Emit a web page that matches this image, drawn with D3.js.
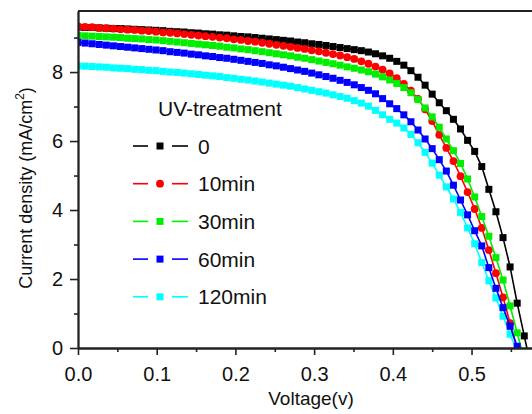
<!DOCTYPE html>
<html>
<head>
<meta charset="utf-8">
<script src="https://cdn.jsdelivr.net/npm/d3@7"></script>
<style>
  body { margin: 0; background: #fff; }
  text { font-family: "Liberation Sans", Arial, sans-serif; fill: #111; }
</style>
</head>
<body>
<svg id="chart" width="532" height="414"></svg>
<script>
/* ── J-V curves, current density (mA/cm²) vs voltage (V) ── */
const voltage = [0.000, 0.009, 0.018, 0.027, 0.036, 0.045, 0.054, 0.063, 0.072, 0.081,
  0.090, 0.099, 0.108, 0.117, 0.126, 0.135, 0.144, 0.153, 0.162, 0.171,
  0.180, 0.189, 0.198, 0.207, 0.216, 0.225, 0.234, 0.243, 0.252, 0.261,
  0.270, 0.279, 0.288, 0.297, 0.306, 0.315, 0.324, 0.333, 0.342, 0.351,
  0.360, 0.369, 0.378, 0.387, 0.396, 0.405, 0.414, 0.423, 0.432, 0.441,
  0.450, 0.459, 0.468, 0.477, 0.486, 0.495, 0.504, 0.513, 0.522, 0.531,
  0.540, 0.549, 0.558, 0.567, 0.576];

const j0 = [9.30, 9.29, 9.29, 9.28, 9.27, 9.26, 9.26, 9.25, 9.24, 9.23,
  9.22, 9.21, 9.20, 9.18, 9.17, 9.16, 9.14, 9.13, 9.11, 9.10,
  9.08, 9.07, 9.05, 9.03, 9.02, 9.00, 8.98, 8.96, 8.94, 8.92,
  8.90, 8.87, 8.85, 8.82, 8.80, 8.77, 8.74, 8.71, 8.68, 8.65,
  8.62, 8.58, 8.53, 8.47, 8.40, 8.31, 8.20, 8.04, 7.85, 7.62,
  7.36, 7.11, 6.88, 6.63, 6.35, 6.02, 5.70, 5.26, 4.60, 3.95,
  3.20, 2.35, 1.30, 0.35, -0.60];

const j10 = [9.32, 9.31, 9.30, 9.28, 9.27, 9.26, 9.24, 9.23, 9.22, 9.20,
  9.19, 9.17, 9.15, 9.14, 9.12, 9.10, 9.08, 9.06, 9.04, 9.02,
  9.00, 8.98, 8.95, 8.93, 8.90, 8.88, 8.85, 8.82, 8.79, 8.76,
  8.73, 8.70, 8.67, 8.63, 8.60, 8.56, 8.52, 8.48, 8.43, 8.38,
  8.31, 8.24, 8.16, 8.07, 7.96, 7.82, 7.66, 7.46, 7.22, 6.92,
  6.58, 6.18, 5.80, 5.42, 4.98, 4.52, 4.03, 3.48, 2.84, 2.17,
  1.47, 0.72, -0.05];

const j30 = [9.06, 9.05, 9.04, 9.03, 9.02, 9.01, 9.00, 8.98, 8.97, 8.96,
  8.94, 8.93, 8.91, 8.89, 8.87, 8.85, 8.83, 8.81, 8.79, 8.77,
  8.75, 8.72, 8.70, 8.67, 8.65, 8.62, 8.59, 8.56, 8.53, 8.50,
  8.47, 8.43, 8.40, 8.36, 8.32, 8.28, 8.24, 8.20, 8.15, 8.11,
  8.06, 8.01, 7.94, 7.86, 7.77, 7.67, 7.55, 7.40, 7.20, 6.96,
  6.70, 6.40, 6.06, 5.72, 5.35, 4.90, 4.38, 3.81, 3.24, 2.62,
  1.97, 1.22, 0.44, -0.35];

const j60 = [8.86, 8.84, 8.82, 8.80, 8.78, 8.76, 8.74, 8.72, 8.70, 8.68,
  8.66, 8.64, 8.62, 8.59, 8.57, 8.55, 8.52, 8.50, 8.47, 8.45,
  8.42, 8.40, 8.37, 8.34, 8.31, 8.28, 8.25, 8.21, 8.18, 8.14,
  8.10, 8.06, 8.02, 7.97, 7.92, 7.87, 7.82, 7.76, 7.70, 7.63,
  7.55, 7.47, 7.37, 7.23, 7.08, 6.94, 6.76, 6.56, 6.32, 6.06,
  5.78, 5.46, 5.13, 4.72, 4.29, 3.86, 3.40, 2.96, 2.33, 1.73,
  1.17, 0.63, 0.05, -0.50];

const j120 = [8.18, 8.17, 8.16, 8.15, 8.14, 8.12, 8.11, 8.10, 8.08, 8.07,
  8.05, 8.04, 8.02, 8.00, 7.99, 7.97, 7.95, 7.93, 7.91, 7.89,
  7.87, 7.84, 7.82, 7.79, 7.77, 7.74, 7.71, 7.68, 7.65, 7.62,
  7.59, 7.55, 7.51, 7.47, 7.43, 7.39, 7.34, 7.29, 7.24, 7.17,
  7.10, 7.01, 6.89, 6.76, 6.63, 6.52, 6.38, 6.19, 5.95, 5.67,
  5.36, 5.01, 4.67, 4.32, 3.93, 3.48, 3.02, 2.48, 1.95, 1.45,
  0.92, 0.40, -0.12];

const seriesLabels = ['0', '10min', '30min', '60min', '120min'];
const xTicks      = [0.0, 0.1, 0.2, 0.3, 0.4, 0.5];
const xMinorTicks = [0.05, 0.15, 0.25, 0.35, 0.45, 0.55];
const yTicks      = [0, 2, 4, 6, 8];
const yMinorTicks = [1, 3, 5, 7, 9];

/* styles per series, same order as labels */
const SERIES = [
  { label: seriesLabels[0], values: j0,   color: '#000000', symbol: 'square' },
  { label: seriesLabels[1], values: j10,  color: '#ff0000', symbol: 'circle' },
  { label: seriesLabels[2], values: j30,  color: '#00ee00', symbol: 'square' },
  { label: seriesLabels[3], values: j60,  color: '#0000ff', symbol: 'square' },
  { label: seriesLabels[4], values: j120, color: '#00ffff', symbol: 'square' },
];
const DRAW_ORDER = [0, 4, 1, 2, 3];   // black underneath, blue on top

const AXIS_COLOR = '#222';
const svg = d3.select('#chart');

const x = d3.scaleLinear().domain([0, 0.58]).range([78, 534.5]);
const y = d3.scaleLinear().domain([0, 9.77]).range([348, 11]);

/* ── clip to plot area ── */
svg.append('defs').append('clipPath').attr('id', 'plot-clip')
  .append('rect')
  .attr('x', x(0)).attr('y', y(9.77))
  .attr('width', x(0.58) - x(0)).attr('height', y(0) - y(9.77));

/* ── curves ── */
const plot = svg.append('g').attr('clip-path', 'url(#plot-clip)');
const line = d3.line().x(d => x(d[0])).y(d => y(d[1]));
const SQ = 7, R = 3.9;

function drawSymbol(sel, s, cx, cy) {
  if (s.symbol === 'circle') {
    sel.append('circle').attr('cx', cx).attr('cy', cy).attr('r', R).attr('fill', s.color);
  } else {
    sel.append('rect').attr('x', cx - SQ / 2).attr('y', cy - SQ / 2)
      .attr('width', SQ).attr('height', SQ).attr('fill', s.color);
  }
}

DRAW_ORDER.forEach(k => {
  const s = SERIES[k];
  const pts = s.values.map((v, i) => [voltage[i], v]);
  const g = plot.append('g');
  g.append('path').datum(pts)
    .attr('d', line)
    .attr('fill', 'none')
    .attr('stroke', s.color)
    .attr('stroke-width', 1.6);
  pts.forEach(p => drawSymbol(g, s, x(p[0]), y(p[1])));
});

/* ── axes ── */
function styleAxis(ax) {
  ax.select('.domain').attr('stroke', AXIS_COLOR).attr('stroke-width', 1.8);
  ax.selectAll('.tick line').attr('stroke', AXIS_COLOR).attr('stroke-width', 1.6);
  ax.selectAll('.tick text').attr('font-size', 20).attr('fill', '#111')
    .attr('font-family', '"Liberation Sans", Arial, sans-serif');
}

svg.append('g')
  .attr('transform', `translate(0,${y(0)})`)
  .call(d3.axisBottom(x).tickValues(xMinorTicks).tickSize(4).tickFormat('').tickSizeOuter(0))
  .call(styleAxis);
svg.append('g')
  .attr('transform', `translate(0,${y(0)})`)
  .call(d3.axisBottom(x).tickValues(xTicks).tickSize(7).tickPadding(12)
    .tickFormat(d3.format('.1f')).tickSizeOuter(0))
  .call(styleAxis);

svg.append('g')
  .attr('transform', `translate(${x(0)},0)`)
  .call(d3.axisLeft(y).tickValues(yMinorTicks).tickSize(4).tickFormat('').tickSizeOuter(0))
  .call(styleAxis);
svg.append('g')
  .attr('transform', `translate(${x(0)},0)`)
  .call(d3.axisLeft(y).tickValues(yTicks).tickSize(8).tickPadding(7).tickSizeOuter(0))
  .call(styleAxis);

/* top frame line */
svg.append('line')
  .attr('x1', x(0)).attr('x2', x(0.58))
  .attr('y1', y(9.77)).attr('y2', y(9.77))
  .attr('stroke', AXIS_COLOR).attr('stroke-width', 1.8);

/* ── axis titles ── */
svg.append('text')
  .attr('x', 311).attr('y', 405)
  .attr('text-anchor', 'middle')
  .attr('font-size', 19)
  .text('Voltage(v)');

const yTitle = svg.append('text')
  .attr('transform', 'translate(32,188) rotate(-90)')
  .attr('text-anchor', 'middle')
  .attr('font-size', 18);
yTitle.append('tspan').text('Current density (mA/cm');
yTitle.append('tspan').attr('font-size', 12).attr('dy', -8).text('2');
yTitle.append('tspan').attr('dy', 8).text(')');

/* ── legend ── */
const legend = svg.append('g');
legend.append('text')
  .attr('x', 158).attr('y', 116)
  .attr('font-size', 21)
  .text('UV-treatment');

SERIES.forEach((s, i) => {
  const cy = 146 + i * 37.7;
  const row = legend.append('g');
  row.append('line').attr('x1', 133).attr('x2', 148).attr('y1', cy).attr('y2', cy)
    .attr('stroke', s.color).attr('stroke-width', 1.6);
  row.append('line').attr('x1', 172).attr('x2', 188).attr('y1', cy).attr('y2', cy)
    .attr('stroke', s.color).attr('stroke-width', 1.6);
  drawSymbol(row, s, 160, cy);
  row.append('text')
    .attr('x', 198).attr('y', cy).attr('dy', '0.36em')
    .attr('font-size', 21)
    .text(s.label);
});
</script>
</body>
</html>
